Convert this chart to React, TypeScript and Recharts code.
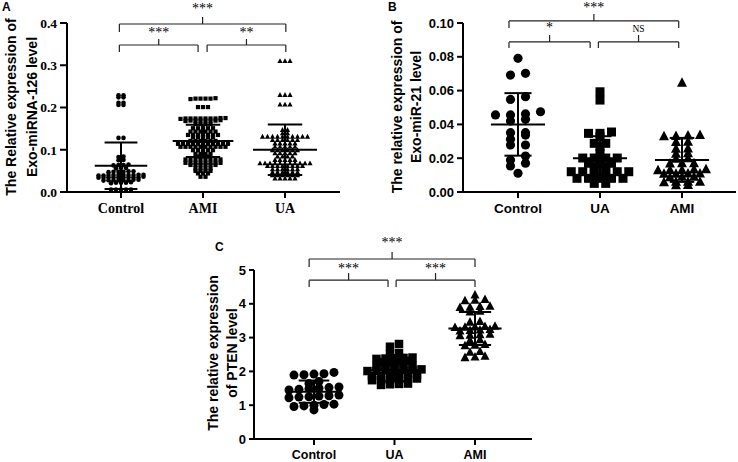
import React from 'react';
import { ScatterChart, Scatter, XAxis, YAxis, ReferenceLine, ReferenceDot } from 'recharts';

// ---- Panel A: Exo-miRNA-126 ----
const A_GROUPS = ['Control', 'AMI', 'UA'];
const A_CONTROL = [
  0.229, 0.229, 0.224, 0.224, 0.211, 0.211, 0.206, 0.206, 0.128, 0.128,
  0.084, 0.083, 0.076, 0.075, 0.065, 0.064, 0.064, 0.063, 0.057, 0.057, 0.056,
  0.049, 0.049, 0.048, 0.048, 0.048, 0.047,
  0.040, 0.040, 0.041, 0.040, 0.039, 0.040, 0.041, 0.040, 0.039, 0.040,
  0.035, 0.035, 0.034, 0.035, 0.035, 0.036, 0.035, 0.034, 0.035, 0.035,
  0.028, 0.028, 0.029, 0.028, 0.027, 0.028, 0.028, 0.029,
  0.022, 0.022, 0.021, 0.023, 0.022,
  0.006, 0.006, 0.006, 0.006, 0.006,
];
const A_AMI = [
  0.221, 0.222, 0.221, 0.220, 0.221, 0.221,
  0.201, 0.201, 0.201,
  0.174, 0.174, 0.175, 0.174, 0.174, 0.173, 0.174, 0.174, 0.175, 0.174,
  0.169, 0.169, 0.169, 0.168, 0.169, 0.169, 0.170, 0.169,
  0.161, 0.161, 0.161, 0.161,
  0.151, 0.151, 0.151, 0.151, 0.151,
  0.143, 0.143, 0.143, 0.143, 0.143, 0.143,
  0.135, 0.135, 0.135, 0.135, 0.135, 0.135, 0.135,
  0.130, 0.130, 0.130, 0.130, 0.130,
  0.121, 0.121, 0.121, 0.121, 0.121, 0.121,
  0.114, 0.114, 0.114, 0.114, 0.114, 0.114, 0.114, 0.114, 0.114, 0.114, 0.114,
  0.107, 0.107, 0.107, 0.107, 0.107, 0.107, 0.107, 0.107, 0.107, 0.107,
  0.099, 0.099, 0.099, 0.099, 0.099,
  0.090, 0.090, 0.090, 0.090,
  0.084, 0.084, 0.084,
  0.077, 0.077, 0.077, 0.077, 0.077, 0.077, 0.077, 0.077,
  0.069, 0.069, 0.069, 0.069, 0.069, 0.069, 0.069, 0.069,
  0.064, 0.064, 0.064, 0.064, 0.064, 0.064,
  0.056, 0.056, 0.056, 0.056,
  0.050, 0.050, 0.050, 0.050,
  0.044, 0.044, 0.044,
  0.036, 0.036,
];
const A_UA = [
  0.310, 0.310, 0.310,
  0.230, 0.230, 0.230,
  0.207, 0.207, 0.207,
  0.147, 0.147, 0.139, 0.139,
  0.131, 0.131, 0.131, 0.131, 0.131, 0.131, 0.131, 0.131, 0.131, 0.131,
  0.123, 0.123, 0.123, 0.123, 0.123, 0.123,
  0.115, 0.115, 0.115, 0.115, 0.115,
  0.107, 0.107, 0.107, 0.107, 0.107,
  0.099, 0.099, 0.099, 0.099, 0.099, 0.099,
  0.092, 0.092, 0.092, 0.092, 0.092,
  0.084, 0.084, 0.084, 0.084,
  0.076, 0.076, 0.076, 0.076, 0.076,
  0.068, 0.068, 0.068, 0.068, 0.068, 0.068, 0.068, 0.068, 0.068, 0.068, 0.068,
  0.062, 0.062, 0.062, 0.062, 0.062, 0.062, 0.062, 0.062,
  0.054, 0.054, 0.054, 0.054, 0.054, 0.054,
  0.047, 0.047, 0.047, 0.047, 0.047, 0.047,
  0.040, 0.040, 0.040, 0.040, 0.040, 0.040,
  0.032, 0.032, 0.032, 0.032, 0.032,
];
const A_MEAN = [0.062, 0.121, 0.1];
const A_SD = [0.055, 0.038, 0.06];
const A_TICKS = [0, 0.1, 0.2, 0.3, 0.4];
const A_SIG = ['***', '***', '**'];

// ---- Panel B: Exo-miR-21 ----
const B_GROUPS = ['Control', 'UA', 'AMI'];
const B_CONTROL = [
  0.0791, 0.0702, 0.0692, 0.0564, 0.0548, 0.0475, 0.0462, 0.0456, 0.0456, 0.043, 0.042,
  0.0351, 0.0351, 0.0337, 0.0312, 0.0278, 0.0278, 0.0213, 0.0189, 0.017, 0.0154, 0.0111,
];
const B_UA = [
  0.0593, 0.0544, 0.0355, 0.0347, 0.0347, 0.0327, 0.0288, 0.0288, 0.0268, 0.0229,
  0.0201, 0.0201, 0.0201, 0.0201, 0.017, 0.017, 0.017, 0.015, 0.015,
  0.012, 0.012, 0.012, 0.012, 0.012, 0.012, 0.01, 0.01,
  0.0081, 0.0081, 0.0081, 0.0081, 0.0081, 0.0051, 0.0051,
];
const B_AMI = [
  0.0647, 0.0337, 0.0335, 0.0332, 0.033, 0.0298, 0.0296, 0.0258, 0.0256, 0.0229, 0.0227,
  0.0199, 0.0197, 0.017, 0.017, 0.0168, 0.0135, 0.0133, 0.013, 0.013, 0.0128,
  0.011, 0.011, 0.0108, 0.0108, 0.009, 0.009, 0.0088, 0.0061, 0.006, 0.006, 0.0058, 0.0041, 0.004,
];
const B_MEAN = [0.04, 0.02, 0.019];
const B_SD = [0.0185, 0.013, 0.013];
const B_TICKS = [0, 0.02, 0.04, 0.06, 0.08, 0.1];
const B_SIG = ['***', '*', 'NS'];

// ---- Panel C: PTEN ----
const C_GROUPS = ['Control', 'UA', 'AMI'];
const C_CONTROL = [
  1.97, 1.93, 1.92, 1.9, 1.89, 1.7, 1.64, 1.54, 1.52, 1.5, 1.49, 1.47, 1.45,
  1.3, 1.28, 1.27, 1.25, 1.24, 1.22, 1.03, 1.02, 1.0, 0.98, 0.96, 0.86,
];
const C_UA = [
  2.81, 2.73, 2.54, 2.5, 2.41, 2.4, 2.39, 2.38, 2.37, 2.31, 2.29, 2.28, 2.27,
  2.18, 2.17, 2.16, 2.15, 2.14, 2.06, 2.05, 2.04, 2.04, 2.03, 2.02, 2.01,
  1.91, 1.9, 1.89, 1.88, 1.87, 1.86, 1.79, 1.78, 1.77, 1.76, 1.75, 1.74,
  1.64, 1.63, 1.62, 1.6,
];
const C_AMI = [
  4.26, 4.13, 4.11, 4.09, 3.93, 3.92, 3.9, 3.89, 3.78, 3.76, 3.48, 3.46,
  3.34, 3.33, 3.32, 3.31, 3.3, 3.24, 3.23, 3.21, 3.2, 3.1, 3.09, 3.07, 3.06,
  2.94, 2.92, 2.8, 2.78, 2.76, 2.59, 2.57, 2.45, 2.43, 2.41,
];
const C_MEAN = [1.4, 2.04, 3.27];
const C_SD = [0.33, 0.33, 0.49];
const C_TICKS = [0, 1, 2, 3, 4, 5];
const C_SIG = ['***', '***', '***'];

// marker shapes
const circle = (r: number) => (p: any) => <circle cx={p.cx} cy={p.cy} r={r} fill="#000" />;
const square = (s: number) => (p: any) => (
  <rect x={p.cx - s / 2} y={p.cy - s / 2} width={s} height={s} fill="#000" />
);
const triangle = (s: number) => (p: any) => (
  <polygon
    points={`${p.cx},${p.cy - s * 0.55} ${p.cx - s / 2},${p.cy + s * 0.4} ${p.cx + s / 2},${p.cy + s * 0.4}`}
    fill="#000"
  />
);

// Prism-like row layout: values within one bin share a row and spread sideways
function swarm(values: number[], gi: number, bin: number, stepPx: number, pxPerX: number) {
  const sorted = [...values].sort((a, b) => a - b);
  const rows: number[][] = [];
  let start = -Infinity;
  for (const v of sorted) {
    if (v - start > bin + 1e-9) {
      rows.push([v]);
      start = v;
    } else rows[rows.length - 1].push(v);
  }
  const out: { x: number; y: number }[] = [];
  rows.forEach((row) => {
    const n = row.length;
    row.forEach((v, i) => out.push({ x: gi + ((i - (n - 1) / 2) * stepPx) / pxPerX, y: v }));
  });
  return out;
}

const PANELS = [
  {
    id: 'A', left: 0, top: 0, width: 345, height: 225,
    margin: { top: 23, right: 5, bottom: 3, left: 0 }, yAxisWidth: 67, xAxisHeight: 30,
    xDomain: [-0.6585, 2.6707], yDomain: [0, 0.4], pxPerX: 82,
    groups: A_GROUPS, values: [A_CONTROL, A_AMI, A_UA], mean: A_MEAN, sd: A_SD,
    yTicks: A_TICKS, yFmt: (v: number) => v.toFixed(1), sig: A_SIG,
    shapes: [circle(2.3), square(4.2), triangle(5.2)], bins: [0.003, 0.003, 0.003], steps: [5, 5, 5],
    meanHalf: [0.32, 0.37, 0.39], capHalf: [0.2, 0.21, 0.21],
    font: 'Liberation Serif', tickSize: 13.5, catSize: 14, yTickLen: 7, xTickMargin: 5,
    brackets: [
      { x1: -0.02, x2: 2.01, y: 0.3976, drop: 0.3787, notch: 0.4142, text: 0.423 },
      { x1: -0.02, x2: 0.94, y: 0.3479, drop: 0.3314, notch: 0.3621, text: 0.366 },
      { x1: 1.05, x2: 2.01, y: 0.3479, drop: 0.3314, notch: 0.3621, text: 0.366 },
    ],
  },
  {
    id: 'B', left: 370, top: 0, width: 368, height: 225,
    margin: { top: 23, right: 2, bottom: 3, left: 0 }, yAxisWidth: 93, xAxisHeight: 30,
    xDomain: [-0.6707, 2.6585], yDomain: [0, 0.1], pxPerX: 82,
    groups: B_GROUPS, values: [B_CONTROL, B_UA, B_AMI], mean: B_MEAN, sd: B_SD,
    yTicks: B_TICKS, yFmt: (v: number) => v.toFixed(2), sig: B_SIG,
    shapes: [circle(4.6), square(9), triangle(10)], bins: [0.003, 0.0015, 0.0015], steps: [15, 11.5, 12],
    meanHalf: [0.33, 0.33, 0.33], capHalf: [0.165, 0.14, 0.15],
    font: 'Liberation Sans', tickSize: 13, catSize: 13.5, yTickLen: 6, xTickMargin: 5,
    brackets: [
      { x1: -0.11, x2: 1.96, y: 0.1012, drop: 0.097, notch: 0.1053, text: 0.1067 },
      { x1: -0.11, x2: 0.88, y: 0.0888, drop: 0.0852, notch: 0.0929, text: 0.0949 },
      { x1: 0.98, x2: 1.96, y: 0.0888, drop: 0.0852, notch: 0.0929, text: 0.0947 },
    ],
  },
  {
    id: 'C', left: 180, top: 220, width: 360, height: 242,
    margin: { top: 50, right: 8, bottom: 3, left: 0 }, yAxisWidth: 74, xAxisHeight: 20,
    xDomain: [-0.745, 2.708], yDomain: [0, 5], pxPerX: 80.5,
    groups: C_GROUPS, values: [C_CONTROL, C_UA, C_AMI], mean: C_MEAN, sd: C_SD,
    yTicks: C_TICKS, yFmt: (v: number) => String(v), sig: C_SIG,
    shapes: [circle(4.5), square(8.5), triangle(9)], bins: [0.09, 0.09, 0.09], steps: [10, 9, 10],
    meanHalf: [0.34, 0.34, 0.33], capHalf: [0.19, 0.19, 0.2],
    font: 'Liberation Sans', tickSize: 13, catSize: 12.5, yTickLen: 5, xTickMargin: 5,
    brackets: [
      { x1: -0.06, x2: 2.0, y: 5.325, drop: 5.09, notch: 5.53, text: 5.69 },
      { x1: -0.06, x2: 0.92, y: 4.7, drop: 4.5, notch: 4.91, text: 4.9 },
      { x1: 1.02, x2: 2.0, y: 4.7, drop: 4.5, notch: 4.91, text: 4.9 },
    ],
  },
];

const seg = (key: string, x1: number, y1: number, x2: number, y2: number, stroke: string, w: number) => (
  <ReferenceLine
    key={key}
    segment={[{ x: x1, y: y1 }, { x: x2, y: y2 }]}
    stroke={stroke}
    strokeWidth={w}
    ifOverflow="visible"
  />
);

function DotPanel({ p }: { p: any }) {
  const series = p.values.map((vals: number[], gi: number) => swarm(vals, gi, p.bins[gi], p.steps[gi], p.pxPerX));
  const tickStyle = { fill: '#000', fontSize: p.tickSize, fontWeight: 700, fontFamily: p.font };
  const catStyle = { fill: '#000', fontSize: p.catSize, fontWeight: 700, fontFamily: p.font };
  const stats: any[] = [];
  p.mean.forEach((m: number, gi: number) => {
    const hi = m + p.sd[gi];
    const lo = m - p.sd[gi];
    stats.push(seg(`m${gi}`, gi - p.meanHalf[gi], m, gi + p.meanHalf[gi], m, '#000', 2));
    stats.push(seg(`v${gi}`, gi, lo, gi, hi, '#000', 2));
    stats.push(seg(`h${gi}`, gi - p.capHalf[gi], hi, gi + p.capHalf[gi], hi, '#000', 2));
    stats.push(seg(`l${gi}`, gi - p.capHalf[gi], lo, gi + p.capHalf[gi], lo, '#000', 2));
  });
  const brackets: any[] = [];
  p.brackets.forEach((b: any, i: number) => {
    const mid = (b.x1 + b.x2) / 2;
    brackets.push(seg(`bh${i}`, b.x1, b.y, b.x2, b.y, '#222', 1.2));
    brackets.push(seg(`bl${i}`, b.x1, b.drop, b.x1, b.y, '#222', 1.2));
    brackets.push(seg(`br${i}`, b.x2, b.drop, b.x2, b.y, '#222', 1.2));
    brackets.push(seg(`bn${i}`, mid, b.y, mid, b.notch, '#222', 1.2));
    const isNS = p.sig[i] === 'NS';
    brackets.push(
      <ReferenceDot
        key={`t${i}`}
        x={mid}
        y={b.text}
        r={0}
        ifOverflow="visible"
        shape={(d: any) => (
          <text
            x={d.cx}
            y={d.cy}
            textAnchor="middle"
            fontFamily="Liberation Serif"
            fontSize={isNS ? 9.5 : 14}
            fill="#000"
            stroke="none"
          >
            {p.sig[i]}
          </text>
        )}
      />
    );
  });
  return (
    <div style={{ position: 'absolute', left: p.left, top: p.top }}>
      <ScatterChart width={p.width} height={p.height} margin={p.margin}>
        <XAxis
          type="number"
          dataKey="x"
          domain={p.xDomain}
          ticks={[0, 1, 2]}
          tickFormatter={(v: number) => p.groups[Math.round(v)]}
          allowDataOverflow
          height={p.xAxisHeight}
          axisLine={{ stroke: '#000', strokeWidth: 2 }}
          tickLine={{ stroke: '#000', strokeWidth: 2 }}
          tickSize={6}
          tickMargin={p.xTickMargin}
          tick={catStyle}
        />
        <YAxis
          type="number"
          dataKey="y"
          domain={p.yDomain}
          ticks={p.yTicks}
          tickFormatter={p.yFmt}
          allowDataOverflow
          width={p.yAxisWidth}
          axisLine={{ stroke: '#000', strokeWidth: 2 }}
          tickLine={{ stroke: '#000', strokeWidth: 2 }}
          tickSize={p.yTickLen}
          tickMargin={3}
          tick={tickStyle}
        />
        {series.map((pts: any[], gi: number) => (
          <Scatter key={gi} data={pts} shape={p.shapes[gi]} isAnimationActive={false} />
        ))}
        {stats}
        {brackets}
      </ScatterChart>
    </div>
  );
}

const titleStyle = { fontFamily: 'Liberation Sans', fontWeight: 700, fontSize: 14, fill: '#000' };
const YTitle = ({ x, y, text }: { x: number; y: number; text: string }) => (
  <text transform={`translate(${x},${y}) rotate(-90)`} textAnchor="middle" {...titleStyle}>
    {text}
  </text>
);

export default function App() {
  return (
    <div style={{ position: 'absolute', left: 0, top: 0, width: 738, height: 462, background: '#fff', overflow: 'hidden' }}>
      {PANELS.map((p) => (
        <DotPanel key={p.id} p={p} />
      ))}
      <svg width={738} height={462} style={{ position: 'absolute', left: 0, top: 0, pointerEvents: 'none' }}>
        <YTitle x={16} y={107} text="The Relative expression of" />
        <YTitle x={37} y={107} text="Exo-miRNA-126 level" />
        <YTitle x={402} y={107} text="The relative expression of" />
        <YTitle x={421} y={107} text="Exo-miR-21 level" />
        <YTitle x={218} y={353} text="The relative expression" />
        <YTitle x={237} y={353} text="of PTEN level" />
        <text x={2} y={11} fontFamily="Liberation Sans" fontWeight={700} fontSize={12}>A</text>
        <text x={388} y={11} fontFamily="Liberation Sans" fontWeight={700} fontSize={12}>B</text>
        <text x={215} y={251} fontFamily="Liberation Sans" fontWeight={700} fontSize={12}>C</text>
      </svg>
    </div>
  );
}
